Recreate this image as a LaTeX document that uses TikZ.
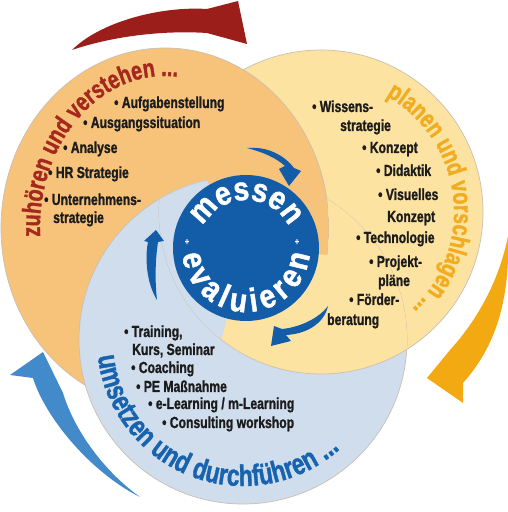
\documentclass[tikz,border=0pt]{standalone}
\usepackage{fontspec}
\usepackage{tikz}
\usetikzlibrary{decorations.text}
\newfontfamily\condfont[FakeStretch=0.76, BoldFeatures={FakeBold=1.2}]{Liberation Sans}
\newfontfamily\roundfont[FakeStretch=0.86, BoldFeatures={FakeBold=1.4}]{Liberation Sans}
\definecolor{orangefill}{HTML}{F7C37A}
\definecolor{yellowfill}{HTML}{FDE3A2}
\definecolor{bluefill}{HTML}{CFDDEC}
\definecolor{messblue}{HTML}{135DA8}
\definecolor{redtext}{HTML}{A4281E}
\definecolor{goldtext}{HTML}{F1AC1F}
\definecolor{bluetext}{HTML}{1863AE}
\definecolor{redarrow}{HTML}{9C1E1A}
\definecolor{goldarrow}{HTML}{F3AA12}
\definecolor{bluearrow}{HTML}{428AC9}
\definecolor{rimgray}{HTML}{C9BFB2}
\definecolor{itemtext}{HTML}{1C1C1C}
\tikzset{
item/.style={anchor=base west, inner sep=0pt, text=itemtext, font=\condfont\bfseries\fontsize{16}{19}\selectfont}, % list lines
plus/.style={inner sep=0pt, text=white, font=\condfont\bfseries\fontsize{10}{10}\selectfont},
rim/.style={draw=rimgray, line width=0.7pt},
orangepath/.style={insert path={(165,284) ellipse [x radius=164, y radius=180]}},
yellowpath/.style={insert path={(321,300) circle [radius=162]}},
bluepath/.style={insert path={(243,172) circle [radius=164]}},
smallarrow/.style={fill=messblue}
}
\begin{document}
\begin{tikzpicture}[x=1pt,y=1pt]
    \useasboundingbox (0,0) rectangle (508,512);
    \fill [white] (0,0) rectangle (508,512);
    % the three discs, each one lying over the next
    \fill [yellowfill, rim, yellowpath];
    \fill [orangefill, rim, orangepath];
    \fill [bluefill, rim, bluepath];
    \begin{scope}
      \clip [bluepath];
      \fill [yellowfill, rim, yellowpath];
    \end{scope}
    % middle part, where all three meet
    \begin{scope}
      \clip [orangepath]; \clip [yellowpath]; \clip [bluepath];
      \begin{scope}
        \clip (246,264) -- +(120:260) arc [start angle=120, end angle=255, radius=260] -- cycle;
        \fill [bluefill, rim, bluepath];
      \end{scope}
      \begin{scope}
        \clip (246,264) -- +(-5:260) arc [start angle=-5, end angle=120, radius=260] -- cycle;
        \fill [orangefill, rim, orangepath];
      \end{scope}
      \begin{scope}
        \clip (246,264) -- +(255:260) arc [start angle=255, end angle=355, radius=260] -- cycle;
        \fill [yellowfill, rim, yellowpath];
      \end{scope}
    \end{scope}
    % big arrows outside
    \fill [redarrow] (72,462) .. controls (100,490) and (160,506) .. (207,503) -- (238,511) -- (247,468) -- (207,479) .. controls (160,482) and (110,475) .. (72,462) -- cycle;
    \fill [goldarrow] (508,276) .. controls (510,210) and (495,165) .. (463,129) -- (463,109) -- (427,134) -- (450,162) .. controls (480,195) and (500,235) .. (508,276) -- cycle;
    \fill [bluearrow] (140,15) .. controls (90,40) and (45,95) .. (33,134) -- (10,137) -- (43,160) -- (63,119) .. controls (75,80) and (105,40) .. (140,15) -- cycle;
    % small arrows round the centre
    \fill [smallarrow] (247,364) .. controls (268,366) and (285,356) .. (294,344) -- (301,341) -- (289,326) -- (279,343) -- (285,346) .. controls (275,355) and (262,360) .. (247,364) -- cycle;
    \fill [smallarrow] (157,212) .. controls (146,230) and (145,255) .. (148,270) -- (144,271) -- (156,282) -- (164,271) -- (158,270) .. controls (155,250) and (155,230) .. (157,212) -- cycle;
    \fill [smallarrow] (328,206) .. controls (324,188) and (306,178) .. (286,177) -- (291,171) -- (271,166) -- (274,186) -- (282,183) .. controls (302,185) and (320,195) .. (328,206) -- cycle;
    % centre disc
    \node [circle, fill=messblue, minimum size=146pt, inner sep=0pt] (mess) at (246,264) {};
    \path [decorate, decoration={text along path, text align=center,
      text={|\roundfont\bfseries\fontsize{33}{33}\selectfont\color{white}|messen}}]
      (200.9,280.4) arc [start angle=160, end angle=20, radius=48];
    \path [decorate, decoration={text along path, text align=fit to path,
      text={|\roundfont\bfseries\fontsize{33}{33}\selectfont\color{white}|evaluieren}}]
      (182.35,257.3) arc [start angle=186, end angle=354, radius=64];
    \node [plus] (plusleft) at (187,270) {+};
    \node [plus] (plusright) at (297,270) {+};
    % headings along the rims
    \path [decorate, decoration={text along path, text align=center,
      text={|\condfont\bfseries\fontsize{26}{26}\selectfont\color{redtext}|zuhören und verstehen ...}}]
      (41.9,257.6) arc [start angle=190, end angle=76, x radius=125, y radius=152];
    \path [decorate, decoration={text along path, text align=center,
      text={|\condfont\bfseries\fontsize{26}{26}\selectfont\color{goldtext}|planen und vorschlagen ...}}]
      (362.1,426.5) arc [start angle=72, end angle=-58, radius=133];
    \path [decorate, decoration={text along path, text align=center,
      text={|\condfont\bfseries\fontsize{30}{30}\selectfont\color{bluetext}|umsetzen und durchführen ...}}]
      (97.4,182.2) arc [start angle=176, end angle=322, radius=146];
    % lists
    \node [item] (o1) at (114,404) {\textbullet\ Aufgabenstellung};
    \node [item] (o2) at (83,384) {\textbullet\ Ausgangssituation};
    \node [item] (o3) at (63,359) {\textbullet\ Analyse};
    \node [item] (o4) at (48,334) {\textbullet\ HR Strategie};
    \node [item] (o5) at (44,307) {\textbullet\ Unternehmens-};
    \node [item] (o6) at (53,289) {strategie};
    \node [item] (y1) at (312,400) {\textbullet\ Wissens-};
    \node [item] (y2) at (340,381) {strategie};
    \node [item] (y3) at (362,359) {\textbullet\ Konzept};
    \node [item] (y4) at (376,336) {\textbullet\ Didaktik};
    \node [item] (y5) at (378,312) {\textbullet\ Visuelles};
    \node [item] (y6) at (387,290) {Konzept};
    \node [item] (y7) at (356,269) {\textbullet\ Technologie};
    \node [item] (y8) at (369,245) {\textbullet\ Projekt-};
    \node [item] (y9) at (378,226) {pläne};
    \node [item] (y10) at (349,207) {\textbullet\ Förder-};
    \node [item] (y11) at (327,187) {beratung};
    \node [item] (b1) at (124,175) {\textbullet\ Training,};
    \node [item] (b2) at (132,157) {Kurs, Seminar};
    \node [item] (b3) at (131,139) {\textbullet\ Coaching};
    \node [item] (b4) at (136,120) {\textbullet\ PE Maßnahme};
    \node [item] (b5) at (148,103) {\textbullet\ e-Learning / m-Learning};
    \node [item] (b6) at (162,84) {\textbullet\ Consulting workshop};
\end{tikzpicture}
\end{document}
